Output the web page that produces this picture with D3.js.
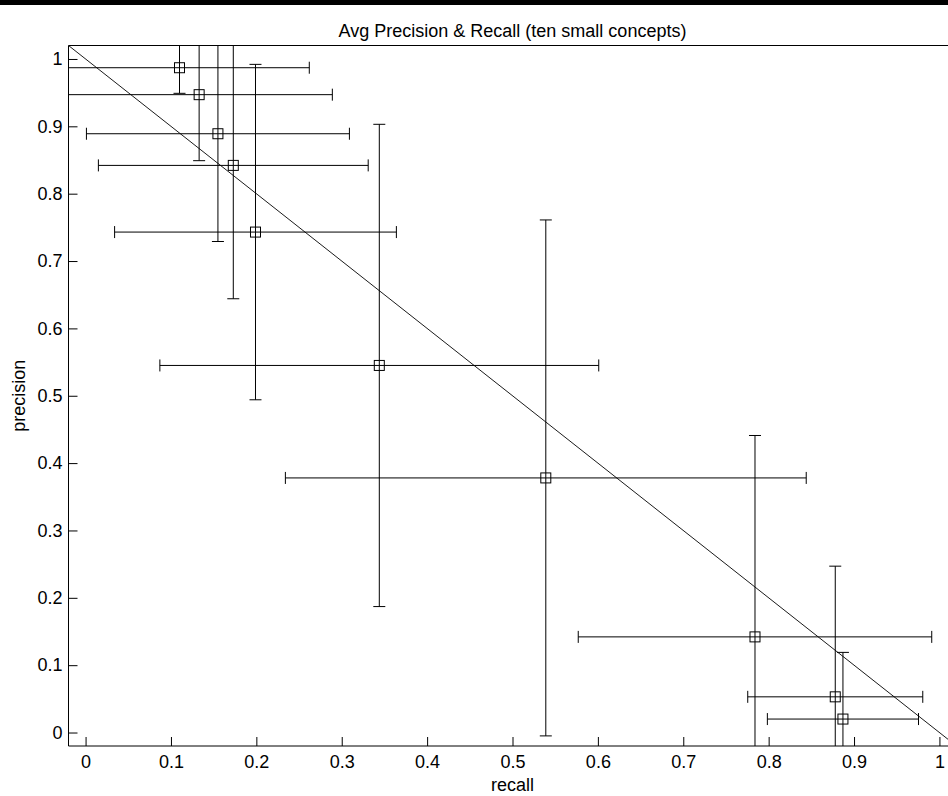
<!DOCTYPE html>
<html>
<head>
<meta charset="utf-8">
<script src="https://cdn.jsdelivr.net/npm/d3@7/dist/d3.min.js"></script>
<style>
  html, body { margin: 0; padding: 0; background: #fff; }
  svg { display: block; font-family: "Liberation Sans", Arial, Helvetica, sans-serif; }
</style>
</head>
<body>
<svg id="chart" width="948" height="796"></svg>
<script>
// Mean recall / precision per concept, with the spread of each measure
const recall       = [0.110, 0.133, 0.155, 0.173, 0.199, 0.344, 0.539, 0.784, 0.878, 0.887];
const precision    = [0.987, 0.947, 0.889, 0.842, 0.743, 0.545, 0.378, 0.142, 0.053, 0.020];
const recallErr    = [0.152, 0.156, 0.154, 0.158, 0.165, 0.257, 0.305, 0.207, 0.1025, 0.0885];
const precisionErr = [0.038, 0.098, 0.160, 0.198, 0.249, 0.358, 0.383, 0.299, 0.194, 0.099];

const xTicks = [0, 0.1, 0.2, 0.3, 0.4, 0.5, 0.6, 0.7, 0.8, 0.9, 1];
const yTicks = [0, 0.1, 0.2, 0.3, 0.4, 0.5, 0.6, 0.7, 0.8, 0.9, 1];
const xLimits = [-0.02, 1.02];
const yLimits = [-0.02, 1.02];

const titleText = "Avg Precision & Recall (ten small concepts)";
const xLabelText = "recall";
const yLabelText = "precision";

(function draw() {
  const svg = d3.select("#chart");
  const W = 948;
  const padL = 68.5, padT = 45.5, padB = 746, padR = 956.5;

  const x = d3.scaleLinear().domain(xLimits).range([padL, padR]);
  const y = d3.scaleLinear().domain(yLimits).range([padB, padT]);

  // dark strip along the top edge of the figure
  svg.append("rect").attr("x", 0).attr("y", 0).attr("width", W).attr("height", 5).attr("fill", "#000");

  svg.append("defs").append("clipPath").attr("id", "plotClip")
    .append("rect").attr("x", padL).attr("y", padT)
    .attr("width", padR - padL).attr("height", padB - padT);

  const plot = svg.append("g").attr("clip-path", "url(#plotClip)");

  const points = recall.map((r, i) => ({
    r, p: precision[i], er: recallErr[i], ep: precisionErr[i]
  }));

  const capHalf = 6;
  const stroke = "#000";

  // reference diagonal precision = 1 - recall across the full recall range
  const diag = xLimits.map(r => ({ r, p: 1 - r }));
  plot.append("path")
    .datum(diag)
    .attr("d", d3.line().x(d => x(d.r)).y(d => y(d.p)))
    .attr("fill", "none").attr("stroke", stroke).attr("stroke-width", 0.9);

  const g = plot.selectAll("g.pt").data(points).join("g").attr("class", "pt");

  // vertical (precision) bars with caps
  g.append("line")
    .attr("x1", d => x(d.r)).attr("x2", d => x(d.r))
    .attr("y1", d => y(d.p - d.ep)).attr("y2", d => y(d.p + d.ep))
    .attr("stroke", stroke).attr("stroke-width", 1);
  g.append("line")
    .attr("x1", d => x(d.r) - capHalf).attr("x2", d => x(d.r) + capHalf)
    .attr("y1", d => y(d.p - d.ep)).attr("y2", d => y(d.p - d.ep))
    .attr("stroke", stroke).attr("stroke-width", 1);
  g.append("line")
    .attr("x1", d => x(d.r) - capHalf).attr("x2", d => x(d.r) + capHalf)
    .attr("y1", d => y(d.p + d.ep)).attr("y2", d => y(d.p + d.ep))
    .attr("stroke", stroke).attr("stroke-width", 1);

  // horizontal (recall) bars with caps
  g.append("line")
    .attr("x1", d => x(d.r - d.er)).attr("x2", d => x(d.r + d.er))
    .attr("y1", d => y(d.p)).attr("y2", d => y(d.p))
    .attr("stroke", stroke).attr("stroke-width", 1);
  g.append("line")
    .attr("x1", d => x(d.r - d.er)).attr("x2", d => x(d.r - d.er))
    .attr("y1", d => y(d.p) - capHalf).attr("y2", d => y(d.p) + capHalf)
    .attr("stroke", stroke).attr("stroke-width", 1);
  g.append("line")
    .attr("x1", d => x(d.r + d.er)).attr("x2", d => x(d.r + d.er))
    .attr("y1", d => y(d.p) - capHalf).attr("y2", d => y(d.p) + capHalf)
    .attr("stroke", stroke).attr("stroke-width", 1);

  // square markers
  g.append("rect")
    .attr("x", d => x(d.r) - 5).attr("y", d => y(d.p) - 5)
    .attr("width", 10).attr("height", 10)
    .attr("fill", "none").attr("stroke", stroke).attr("stroke-width", 1);

  // axes with inward ticks
  const fmt = d => d === 0 ? "0" : d === 1 ? "1" : d3.format(".1f")(d);

  const xAxis = svg.append("g").attr("transform", `translate(0,${padB})`)
    .call(d3.axisBottom(x).tickValues(xTicks).tickFormat(fmt).tickSizeInner(-9).tickSizeOuter(0).tickPadding(9));
  const yAxis = svg.append("g").attr("transform", `translate(${padL},0)`)
    .call(d3.axisLeft(y).tickValues(yTicks).tickFormat(fmt).tickSizeInner(-9).tickSizeOuter(0).tickPadding(6));

  [xAxis, yAxis].forEach(a => {
    a.select(".domain").remove();
    a.selectAll("text").attr("font-size", 18).attr("fill", "#000")
      .attr("font-family", "'Liberation Sans', Arial, sans-serif");
    a.selectAll("line").attr("stroke", "#000");
  });

  // axes frame (left, bottom, top)
  svg.append("path")
    .attr("d", `M${padR},${padT}H${padL}V${padB}H${padR}`)
    .attr("fill", "none").attr("stroke", "#000").attr("stroke-width", 1);

  // texts
  svg.append("text").attr("x", (padL + padR) / 2).attr("y", 37)
    .attr("text-anchor", "middle").attr("font-size", 18).text(titleText);
  svg.append("text").attr("x", (padL + padR) / 2).attr("y", 791)
    .attr("text-anchor", "middle").attr("font-size", 18).text(xLabelText);
  svg.append("text").attr("transform", `translate(25,${(padT + padB) / 2}) rotate(-90)`)
    .attr("text-anchor", "middle").attr("font-size", 18).text(yLabelText);
})();
</script>
</body>
</html>
